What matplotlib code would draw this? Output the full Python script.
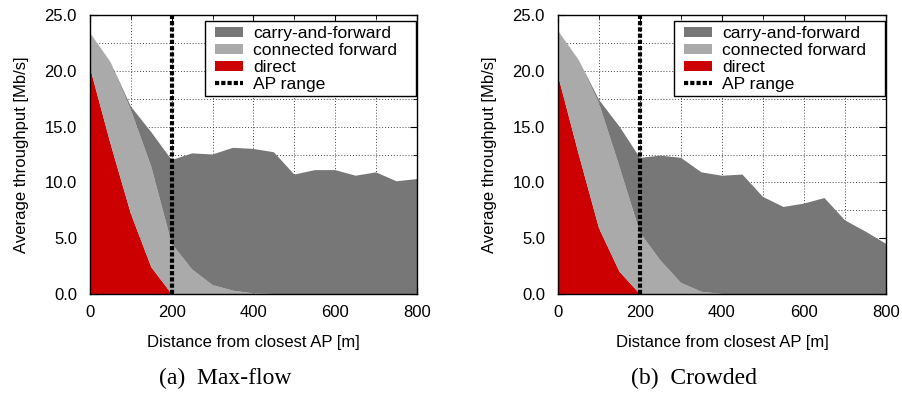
import numpy as np
import matplotlib.pyplot as plt
from matplotlib.patches import Patch, Rectangle
from matplotlib.lines import Line2D
from matplotlib.ticker import MultipleLocator, FormatStrFormatter

plt.rcParams['font.family'] = ['Liberation Sans', 'DejaVu Sans']

# distance from closest AP [m]
distance = [0, 50, 100, 150, 200, 250, 300, 350, 400, 450, 500, 550, 600, 650, 700, 750, 800]

# (a) Max-flow: throughput per delivery mode [Mb/s]
maxflow_direct = [20.3, 13.5, 7.2, 2.4, 0, 0, 0, 0, 0, 0, 0, 0, 0, 0, 0, 0, 0]
maxflow_connected = [3.1, 7.3, 9.3, 9.0, 4.5, 2.2, 0.8, 0.3, 0.05, 0, 0, 0, 0, 0, 0, 0, 0]
maxflow_carry = [0, 0, 0.3, 3.1, 7.5, 10.4, 11.7, 12.8, 12.95, 12.7, 10.7, 11.1, 11.1, 10.6, 10.9, 10.1, 10.3]

# (b) Crowded
crowded_direct = [19.6, 12.6, 5.9, 2.0, 0, 0, 0, 0, 0, 0, 0, 0, 0, 0, 0, 0, 0]
crowded_connected = [4.0, 8.4, 11.2, 9.4, 5.5, 3.0, 1.0, 0.2, 0, 0, 0, 0, 0, 0, 0, 0, 0]
crowded_carry = [0, 0, 0.3, 3.6, 6.7, 9.4, 11.2, 10.7, 10.6, 10.7, 8.7, 7.8, 8.1, 8.6, 6.6, 5.6, 4.5]

ap_range = 200
captions = ["(a)  Max-flow", "(b)  Crowded"]

c_direct = "#cc0000"
c_connected = "#aaaaaa"
c_carry = "#777777"
ap_style = (0, (1, 0.5))

fig = plt.figure(figsize=(9.03, 3.94), dpi=100)
ax1 = fig.add_axes([90 / 903, 1 - 294 / 394, 327 / 903, 279 / 394])
ax2 = fig.add_axes([558 / 903, 1 - 294 / 394, 328 / 903, 279 / 394])

panels = [
    (ax1, maxflow_direct, maxflow_connected, maxflow_carry),
    (ax2, crowded_direct, crowded_connected, crowded_carry),
]

legends = []
for ax, direct, connected, carry in panels:
    ax.stackplot(distance, direct, connected, carry,
                 colors=[c_direct, c_connected, c_carry], linewidth=0, zorder=2)
    ax.axvline(ap_range, color="black", linestyle=ap_style, linewidth=3, zorder=3)

    ax.set_xlim(0, 800)
    ax.set_ylim(0, 25)
    ax.xaxis.set_major_locator(MultipleLocator(200))
    ax.xaxis.set_minor_locator(MultipleLocator(100))
    ax.yaxis.set_major_locator(MultipleLocator(5))
    ax.yaxis.set_minor_locator(MultipleLocator(2.5))
    ax.yaxis.set_major_formatter(FormatStrFormatter("%.1f"))
    ax.grid(True, which="both", linestyle=(0, (1, 2)), color="#444444", linewidth=0.7, zorder=0)
    ax.set_axisbelow(True)
    ax.tick_params(which="both", direction="in", top=True, right=True, labelsize=12)
    ax.tick_params(axis="y", which="major", length=5, pad=9.4)
    ax.tick_params(axis="x", which="major", length=5, pad=8)
    ax.tick_params(which="minor", length=3)
    for s in ax.spines.values():
        s.set_linewidth(1.0)
        s.set_zorder(4)

    ax.set_xlabel("Distance from closest AP [m]", fontsize=12, labelpad=10.5)
    ax.set_ylabel("Average throughput [Mb/s]", fontsize=12, labelpad=11)

    handles = [
        Patch(facecolor=c_carry, edgecolor="none", label="carry-and-forward"),
        Patch(facecolor=c_connected, edgecolor="none", label="connected forward"),
        Patch(facecolor=c_direct, edgecolor="none", label="direct"),
        Line2D([], [], color="black", linestyle=ap_style, linewidth=3, label="AP range"),
    ]
    leg = ax.legend(handles=handles, loc="upper right", bbox_to_anchor=(0.9388, 0.960),
                    borderaxespad=0, borderpad=0, fontsize=12.6, frameon=False,
                    handlelength=1.58, handleheight=0.53, handletextpad=0.57,
                    labelspacing=0.11)
    leg.set_zorder(6)
    legends.append((ax, leg))

# gnuplot-style key box: wider padding on the right than on the left
fig.canvas.draw()
inv = fig.transFigure.inverted()
for ax, leg in legends:
    bb = leg.get_window_extent()
    x0, y0 = inv.transform((bb.x0 - 10.7, bb.y0 - 4))
    x1, y1 = inv.transform((bb.x1 + 19, bb.y1 + 5.4))
    box = Rectangle((x0, y0), x1 - x0, y1 - y0, transform=fig.transFigure,
                    facecolor="white", edgecolor="black", linewidth=1.0,
                    zorder=5, clip_on=False)
    ax.add_patch(box)

fig.text(225 / 903, 1 - 378 / 394, captions[0], ha="center", va="center",
         fontsize=17, family="Liberation Serif")
fig.text(694 / 903, 1 - 378 / 394, captions[1], ha="center", va="center",
         fontsize=17, family="Liberation Serif")

fig.savefig("out.png", dpi=100)
